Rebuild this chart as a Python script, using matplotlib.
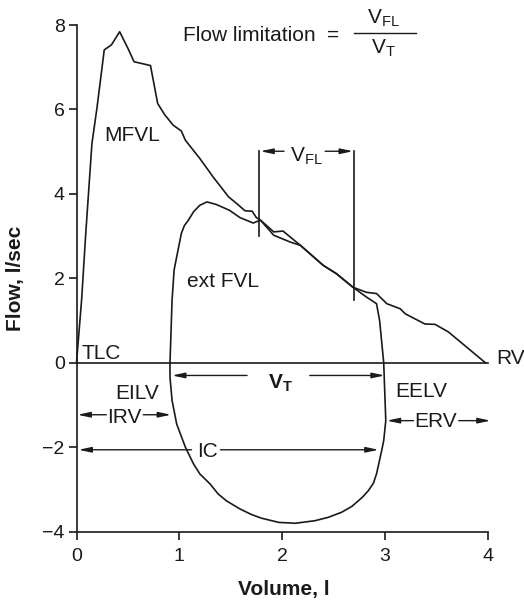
import matplotlib
matplotlib.use('Agg')
import matplotlib.pyplot as plt

plt.rcParams['font.family'] = ['Liberation Sans', 'DejaVu Sans']
plt.rcParams['mathtext.fontset'] = 'custom'
plt.rcParams['mathtext.rm'] = 'Liberation Sans'
plt.rcParams['mathtext.bf'] = 'Liberation Sans:bold'
plt.rcParams['mathtext.it'] = 'Liberation Sans:italic'

# maximal flow-volume loop (expiratory limb)
mfvl_x = [0.0, 0.05, 0.09, 0.15, 0.20, 0.27, 0.34, 0.42, 0.50, 0.56, 0.72, 0.79,
          0.86, 0.94, 1.02, 1.06, 1.20, 1.33, 1.48, 1.56, 1.64, 1.71, 1.75, 1.79,
          1.92, 2.01, 2.18, 2.40, 2.53, 2.69, 2.82, 2.92, 3.02, 3.15, 3.20, 3.39,
          3.49, 3.62, 3.98]
mfvl_y = [0.0, 1.50, 3.06, 5.19, 6.05, 7.41, 7.53, 7.84, 7.45, 7.13, 7.04, 6.14,
          5.87, 5.63, 5.49, 5.27, 4.84, 4.40, 3.93, 3.77, 3.60, 3.59, 3.44, 3.38,
          3.10, 3.12, 2.78, 2.31, 2.11, 1.79, 1.67, 1.64, 1.40, 1.28, 1.16, 0.92,
          0.91, 0.73, 0.0]

# tidal loop during exercise (expiration then inspiration)
ext_x = [0.91, 0.93, 0.95, 1.02, 1.05, 1.09, 1.14, 1.20, 1.27, 1.36, 1.49, 1.59,
         1.72, 1.79, 1.92, 2.08, 2.18, 2.40, 2.53, 2.69, 2.82, 2.92, 2.95, 2.97,
         2.99, 3.01, 2.99, 2.97, 2.92, 2.89, 2.84, 2.78, 2.68, 2.58, 2.45, 2.32,
         2.13, 1.97, 1.80, 1.70, 1.59, 1.46, 1.38, 1.30, 1.20, 1.14, 1.06, 0.975,
         0.93, 0.91, 0.91]
ext_y = [0.0, 1.48, 2.20, 3.06, 3.25, 3.38, 3.58, 3.73, 3.81, 3.75, 3.61, 3.44,
         3.31, 3.38, 3.02, 2.86, 2.78, 2.31, 2.11, 1.79, 1.56, 1.40, 1.00, 0.50,
         0.0, -1.37, -1.84, -2.08, -2.63, -2.85, -3.03, -3.19, -3.40, -3.54, -3.66, -3.74,
         -3.80, -3.78, -3.68, -3.59, -3.46, -3.27, -3.11, -2.87, -2.63, -2.40, -2.00, -1.45,
         -0.89, -0.34, 0.0]

x_ticks = [0, 1, 2, 3, 4]
y_ticks = [-4, -2, 0, 2, 4, 6, 8]

fig = plt.figure(figsize=(5.24, 6.02), dpi=100)
ax = fig.add_axes([76.5 / 524, 1 - 531.7 / 602, 411 / 524, 506.7 / 602])
ax.set_xlim(0, 4)
ax.set_ylim(-4, 8)

lw = 1.2
ax.plot(mfvl_x, mfvl_y, color='#1a1a1a', lw=lw, clip_on=False)
ax.plot(ext_x, ext_y, color='#1a1a1a', lw=lw, clip_on=False)
ax.plot([0, 4], [0, 0], color='#1a1a1a', lw=lw, clip_on=False)

for s in ['top', 'right']:
    ax.spines[s].set_visible(False)
ax.spines['left'].set_bounds(-4, 8)
ax.spines['bottom'].set_bounds(0, 4)
for s in ['left', 'bottom']:
    ax.spines[s].set_linewidth(lw)
    ax.spines[s].set_color('#1a1a1a')
ax.set_xticks(x_ticks)
ax.set_yticks(y_ticks)
ax.tick_params(direction='out', length=5.5, width=lw, colors='#1a1a1a',
               labelsize=14, labelcolor='#1a1a1a')
ax.tick_params(axis='x', pad=6)
ax.tick_params(axis='y', pad=3)

fig.text(16 / 524, 1 - 278.5 / 602, 'Flow, l/sec', rotation=90, ha='center',
         va='center', fontsize=15, fontweight='bold', color='#1a1a1a')
fig.text(284 / 524, 1 - 590 / 602, 'Volume, l', ha='center', va='center',
         fontsize=15, fontweight='bold', color='#1a1a1a')

fs = 15
tc = '#1a1a1a'


def label(x, y, s, ha='left', **kw):
    ax.text(x, y, s, ha=ha, va='baseline', fontsize=fs, color=tc, clip_on=False, **kw)


def arrow(x0, x1, y):
    # line from x0 with a filled head at x1
    ax.annotate('', xy=(x1, y), xytext=(x0, y), annotation_clip=False,
                arrowprops=dict(arrowstyle='-|>,head_length=0.75,head_width=0.16',
                                mutation_scale=10, lw=1.0, color=tc,
                                shrinkA=0, shrinkB=0))


label(0.27, 5.25, 'MFVL')
label(1.08, 1.79, 'ext FVL')
label(0.044, 0.08, 'TLC')
label(0.374, -0.85, 'EILV')
label(3.10, -0.82, 'EELV')
label(4.09, -0.02, 'RV')

# flow limitation ratio
label(1.034, 7.63, 'Flow limitation')
label(2.50, 7.63, '=', ha='center')
label(2.99, 8.04, r'$\mathregular{V_{FL}}$', ha='center')
label(2.99, 7.33, r'$\mathregular{V_T}$', ha='center')
ax.plot([2.70, 3.30], [7.80, 7.80], color=tc, lw=1.0, clip_on=False)

# V_FL bracket
ax.plot([1.78, 1.78], [3.00, 5.01], color=tc, lw=lw)
ax.plot([2.70, 2.70], [1.49, 5.01], color=tc, lw=lw)
arrow(2.02, 1.79, 5.01)
arrow(2.42, 2.69, 5.01)
label(2.24, 4.77, r'$\mathregular{V_{FL}}$', ha='center')

# V_T
arrow(1.66, 0.93, -0.30)
arrow(2.27, 3.00, -0.30)
label(1.985, -0.62, r'$\mathbf{V_T}$', ha='center')

# IRV
arrow(0.29, 0.01, -1.23)
arrow(0.65, 0.92, -1.23)
label(0.47, -1.43, 'IRV', ha='center')

# ERV
arrow(3.28, 3.02, -1.37)
arrow(3.72, 4.03, -1.37)
label(3.49, -1.53, 'ERV', ha='center')

# IC
arrow(1.12, 0.02, -2.06)
arrow(1.40, 2.94, -2.06)
label(1.275, -2.24, 'IC', ha='center')

fig.savefig('out.png', dpi=100)
